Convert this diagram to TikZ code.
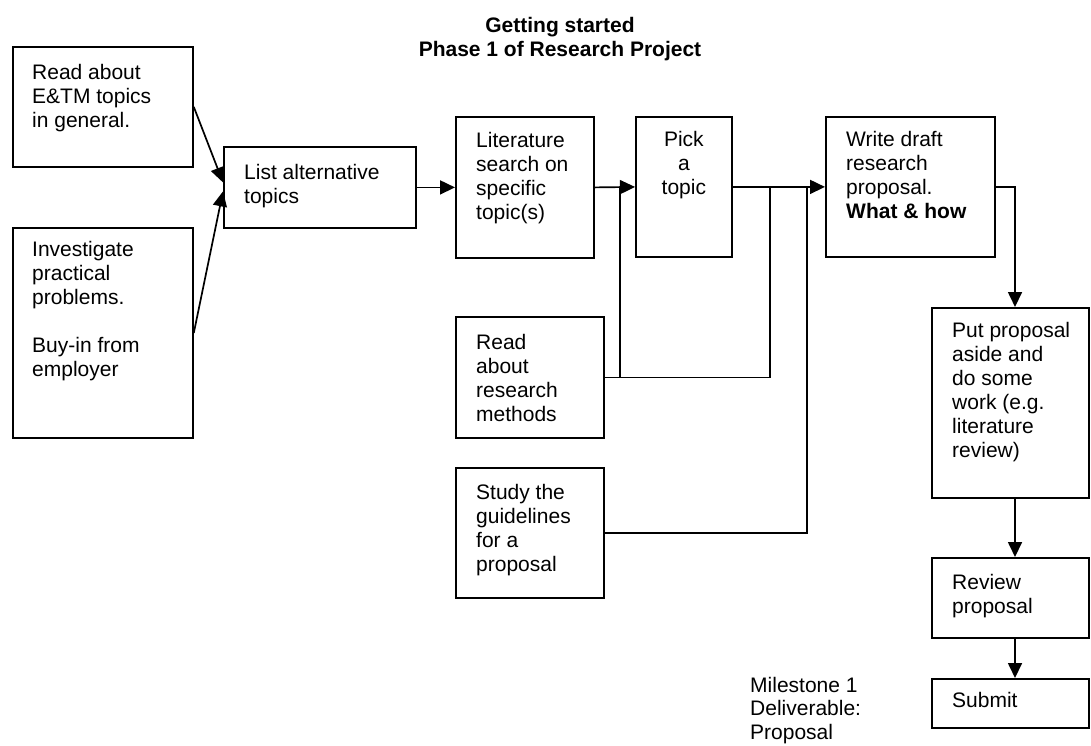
\documentclass[tikz,border=0pt]{standalone}
\usepackage{fontspec}
\setmainfont{Liberation Sans}
\usepackage{tikz}
\usetikzlibrary{positioning,calc,arrows.meta}

\begin{document}
\begin{tikzpicture}[x=1pt, y=-1pt,
    box/.style={draw, line width=1.8pt, anchor=north west, inner sep=0pt},
    txt/.style={anchor=north west, inner sep=0pt, align=left, font=\fontsize{21}{24}\selectfont},
    arr/.style={line width=1.7pt, -{Triangle[length=15pt, width=14pt]}},
    link/.style={line width=1.7pt}]
    \useasboundingbox (0,0) rectangle (1091,745);

    % Title
    \node[anchor=north, inner sep=0pt, align=center, font=\fontsize{21}{24}\selectfont\bfseries] (title) at (560,17) {Getting started\\Phase 1 of Research Project};

    % Left column
    \node[box, minimum width=180pt, minimum height=120pt] (read) at (12,46) {};
    \node[txt] (readT) at ($(read.north west)+(20,18)$) {Read about\\E\&TM topics\\in general.};
    \node[box, minimum width=180pt, minimum height=210pt] (inv) at (12,227) {};
    \node[txt] (invT) at ($(inv.north west)+(20,14)$) {Investigate\\practical\\problems.\\[24pt]Buy-in from\\employer};

    % Main row
    \node[box, minimum width=192pt, minimum height=81pt] (list) at (223,146) {};
    \node[txt] (listT) at ($(list.north west)+(21,18)$) {List alternative\\topics};
    \node[box, minimum width=138pt, minimum height=141pt] (lit) at (455,116) {};
    \node[txt] (litT) at ($(lit.north west)+(21,16)$) {Literature\\search on\\specific\\topic(s)};
    \node[box, minimum width=96pt, minimum height=140pt] (pick) at (635,116) {};
    \node[txt, anchor=north, align=center] (pickT) at ($(pick.north)+(0,15)$) {Pick\\a\\topic};
    \node[box, minimum width=169pt, minimum height=140pt] (write) at (825,116) {};
    \node[txt] (writeT) at ($(write.north west)+(21,15)$) {Write draft\\research\\proposal.\\\textbf{What \& how}};

    % Inputs below
    \node[box, minimum width=148pt, minimum height=121pt] (meth) at (455,316) {};
    \node[txt] (methT) at ($(meth.north west)+(21,18)$) {Read\\about\\research\\methods};
    \node[box, minimum width=148pt, minimum height=130pt] (study) at (455,467) {};
    \node[txt] (studyT) at ($(study.north west)+(21,17)$) {Study the\\guidelines\\for a\\proposal};

    % Right column
    \node[box, minimum width=157pt, minimum height=190pt] (put) at (931,307) {};
    \node[txt] (putT) at ($(put.north west)+(21,15)$) {Put proposal\\aside and\\do some\\work (e.g.\\literature\\review)};
    \node[box, minimum width=157pt, minimum height=80pt] (review) at (931,557) {};
    \node[txt] (reviewT) at ($(review.north west)+(21,17)$) {Review\\proposal};
    \node[box, minimum width=157pt, minimum height=49pt] (submit) at (931,678) {};
    \node[txt] (submitT) at ($(submit.north west)+(21,14)$) {Submit};

    \node[txt, font=\fontsize{21}{23.5}\selectfont] (mile) at (750,677) {Milestone 1\\Deliverable:\\Proposal};

    % Connectors
    \coordinate (jA) at (620,0);
    \coordinate (jB) at (770,0);
    \coordinate (jC) at (807,0);
    \coordinate (rx) at (1015,0);

    \draw[arr] (read.east) -- ($(list.west)+(0,-5)$);
    \draw[arr] (inv.east) -- ($(list.west)+(0,4)$);
    \draw[arr] (list.east) -- (lit.west);
    \draw[arr] (lit.east) -- (pick.west);
    \draw[arr] (pick.east) -- (write.west);
    \draw[link] (meth.east) -| (jA |- pick.west);
    \draw[link] (meth.east) -| (jB |- pick.west);
    \draw[link] (study.east) -| (jC |- pick.west);
    \draw[arr] (write.east) -| (rx |- put.north);
    \draw[arr] (rx |- put.south) -- (rx |- review.north);
    \draw[arr] (rx |- review.south) -- (rx |- submit.north);
\end{tikzpicture}
\end{document}
